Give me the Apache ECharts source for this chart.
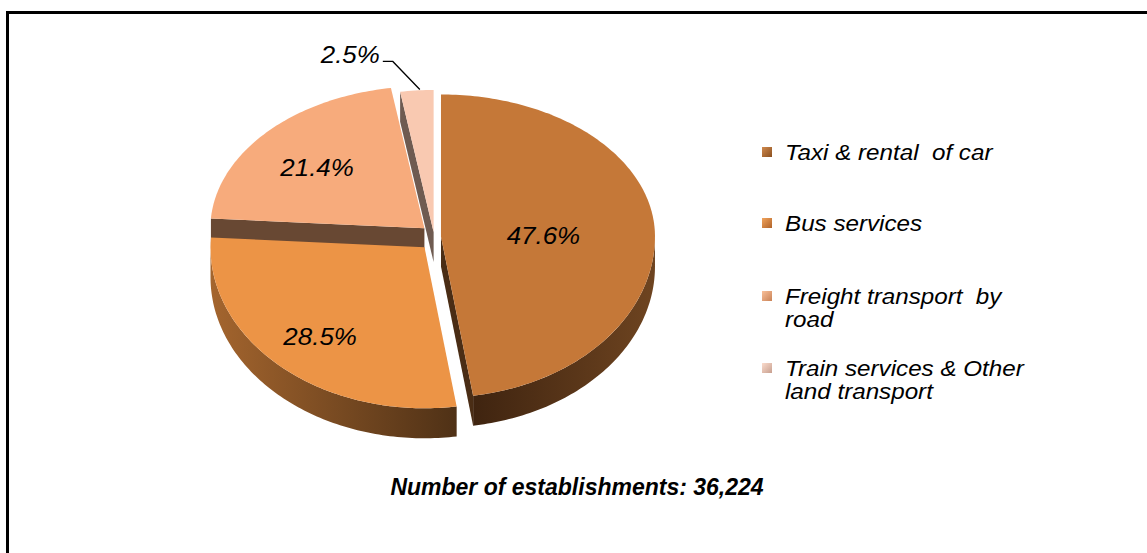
<!DOCTYPE html>
<html>
<head>
<meta charset="utf-8">
<script src="https://cdn.jsdelivr.net/npm/echarts@6/dist/echarts.min.js"></script>
<style>
  html, body { margin: 0; padding: 0; background: #fff; }
  #chart { width: 1147px; height: 553px; }
</style>
</head>
<body>
<div id="chart"></div>
<script>
// data
const categories = ['Taxi & rental  of car', 'Bus services', 'Freight transport  by road', 'Train services & Other land transport'];
const legendLabels = [['Taxi & rental  of car'], ['Bus services'], ['Freight transport  by', 'road'], ['Train services & Other', 'land transport']];
const shares = [47.6, 28.5, 21.4, 2.5];
const shareLabels = ['47.6%', '28.5%', '21.4%', '2.5%'];
const captionText = 'Number of establishments: 36,224';

// look of the 3d pie
const CX = 434, CY = 237;          // centre of the top face
const RX = 214, RY_T = 142, RY_B = 161, DEPTH = 30;
const explode = [7, 14, 13, 5];
const labelRatio = [0.48, 0.72, 0.68, 0];
const topColors = ['#C57838', '#EC9446', '#F7AB7C', '#F9C9B1'];
const sideColors = [
    ['#3f2410', '#6e4420'],
    ['#a4652e', '#4f3116'],
    ['#6a4a35', '#5a3d2b'],
    ['#7a665c', '#5e4d45']
];
const faceColors = ['#4a2d15', '#5a3818', '#684833', '#6f5b51'];
const FONT = '"Liberation Sans", Arial, sans-serif';

const total = shares.reduce((s, v) => s + v, 0);
const starts = [], ends = [];
let acc = 0;
shares.forEach(v => { starts.push(acc / total * 360); acc += v; ends.push(acc / total * 360); });

function rad(d) { return d * Math.PI / 180; }
function pt(ax, ay, th) {
    const c = Math.cos(rad(th));
    return [ax + RX * Math.sin(rad(th)), ay - (c >= 0 ? RY_T : RY_B) * c];
}
function arc(ax, ay, a, b) {
    const n = Math.max(2, Math.ceil(b - a));
    const out = [];
    for (let k = 0; k <= n; k++) out.push(pt(ax, ay, a + (b - a) * k / n));
    return out;
}
function down(p) { return [p[0], p[1] + DEPTH]; }

function renderSlice(params, api) {
    const i = params.dataIndex;
    const a0 = starts[i], a1 = ends[i], mid = (a0 + a1) / 2;
    const ax = CX + explode[i] * Math.sin(rad(mid));
    const ay = CY - explode[i] * Math.cos(rad(mid));
    const children = [];

    // curved outer wall, only the part facing us
    const s = Math.max(a0, 90), e = Math.min(a1, 270);
    if (e > s) {
        const top = arc(ax, ay, s, e);
        const bottom = top.map(down).reverse();
        children.push({
            type: 'polygon', z2: 1,
            shape: { points: top.concat(bottom) },
            style: { fill: new echarts.graphic.LinearGradient(0, 0, 1, 0, [
                { offset: 0, color: sideColors[i][0] }, { offset: 1, color: sideColors[i][1] }]) }
        });
    }
    // cut faces
    const apex = [ax, ay];
    if (Math.sin(rad(a0)) < -0.01) {
        const o = pt(ax, ay, a0);
        children.push({ type: 'polygon', z2: 2, shape: { points: [apex, o, down(o), down(apex)] },
            style: { fill: faceColors[i] } });
    }
    if (Math.sin(rad(a1)) > 0.01) {
        const o = pt(ax, ay, a1);
        children.push({ type: 'polygon', z2: 2, shape: { points: [apex, o, down(o), down(apex)] },
            style: { fill: faceColors[i] } });
    }
    // top face
    children.push({
        type: 'polygon', z2: 10,
        shape: { points: [apex].concat(arc(ax, ay, a0, a1)) },
        style: { fill: topColors[i] }
    });

    const txt = shareLabels[i];
    if (api.value(0) >= 5) {
        const lp = pt(ax, ay, mid);
        children.push({
            type: 'text', z2: 30,
            x: ax + (lp[0] - ax) * labelRatio[i], y: ay + (lp[1] - ay) * labelRatio[i] + 4,
            scaleX: 1.08,
            style: { text: txt, fill: '#000', font: 'italic 24px ' + FONT, align: 'center', verticalAlign: 'middle' }
        });
    } else {
        // small slice: label outside with a leader line
        const o = pt(ax, ay, mid);
        const p0 = [o[0] + 3, o[1] - 1];
        const p1 = [o[0] - 24, o[1] - 29];
        const p2 = [p1[0] - 10, p1[1]];
        children.push({ type: 'polyline', z2: 30, shape: { points: [p0, p1, p2] },
            style: { stroke: '#000', lineWidth: 1.3, fill: null } });
        children.push({
            type: 'text', z2: 30, x: p2[0] - 3, y: p2[1] - 7, scaleX: 1.08,
            style: { text: txt, fill: '#000', font: 'italic 24px ' + FONT, align: 'right', verticalAlign: 'middle' }
        });
    }
    return { type: 'group', children: children };
}

const legendY = [152, 223, 296, 368];
const legendIcons = [
    ['#d08a4e', '#8a4f1f'],
    ['#f2a45c', '#b0632a'],
    ['#f9c09a', '#c98256'],
    ['#fbdccd', '#c79f8f']
];
const graphics = [{
    type: 'rect', silent: true,
    shape: { x: 7.5, y: 12.5, width: 1300, height: 700 },
    style: { fill: null, stroke: '#000', lineWidth: 3 }
}];
legendLabels.forEach((lines, i) => {
    graphics.push({
        type: 'rect', shape: { x: 762, y: legendY[i] - 5, width: 10, height: 10 },
        style: { fill: new echarts.graphic.LinearGradient(0, 0, 1, 1, [
            { offset: 0, color: legendIcons[i][0] }, { offset: 1, color: legendIcons[i][1] }]) }
    });
    lines.forEach((ln, k) => {
        graphics.push({
            type: 'text', x: 785, y: legendY[i] + k * 23, scaleX: 1.1,
            style: { text: ln, font: 'italic 22px ' + FONT, fill: '#000', verticalAlign: 'middle' }
        });
    });
});
graphics.push({
    type: 'text', x: 577, y: 487,
    style: { text: captionText, font: 'italic bold 23px ' + FONT, fill: '#000', align: 'center', verticalAlign: 'middle' }
});

const chart = echarts.init(document.getElementById('chart'), null, { renderer: 'svg' });
chart.setOption({
    backgroundColor: '#fff',
    animation: false,
    graphic: { elements: graphics },
    series: [{
        type: 'custom',
        coordinateSystem: 'none',
        renderItem: renderSlice,
        data: shares.map((v, i) => ({ name: categories[i], value: [v] }))
    }]
});
</script>
</body>
</html>
